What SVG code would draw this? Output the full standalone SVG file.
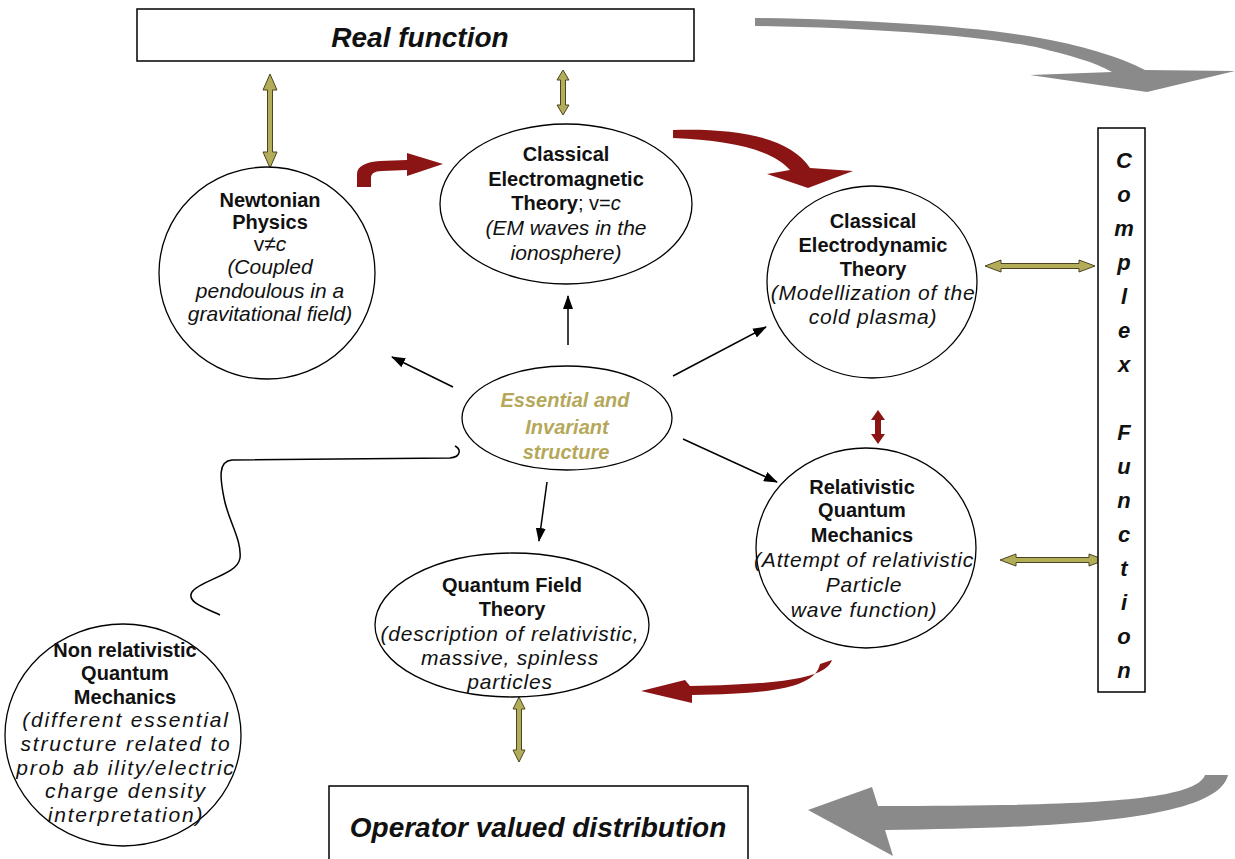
<svg xmlns="http://www.w3.org/2000/svg" width="1235" height="859" viewBox="0 0 1235 859">
<defs>
<marker id="ah" markerWidth="14" markerHeight="10" refX="13" refY="5" orient="auto" markerUnits="userSpaceOnUse">
<path d="M0,0 L14,5 L0,10 Z" fill="#000"/>
</marker>
<style>
text{font-family:"Liberation Sans",Arial,sans-serif;fill:#111;text-anchor:middle}
.b{font-weight:bold;font-size:20px}
.i{font-style:italic;font-size:21px}
.i2{font-style:italic;font-size:21px;letter-spacing:0.8px}
.i3{font-style:italic;font-size:21px;letter-spacing:1.8px}
.n{font-weight:normal;font-style:normal}
.it{font-weight:normal;font-style:italic}
.ess{font-weight:bold;font-style:italic;font-size:20px;fill:#B5A85A}
.big{font-weight:bold;font-style:italic;font-size:28px}
.cf{font-weight:bold;font-style:italic;font-size:22px}
.node{fill:#fff;stroke:#000;stroke-width:1.3}
.box{fill:#fff;stroke:#000;stroke-width:1.5}
.gold{fill:#B3AC58;stroke:#4a4520;stroke-width:1}
.red{fill:#8B1414;stroke:none}
.gray{fill:#8A8A8A;stroke:none}
.con{stroke:#000;stroke-width:1.5;fill:none}
</style>
</defs>

<g id="connectors">
<path class="gray" d="M755,18 C880,20 1000,28 1060,42 C1105,52 1130,62 1145,70 L1235,71 L1147,92 L1030,75 L1112,72 C1095,62 1068,55 1040,48 C990,37 880,28 755,26 Z"/>
<path class="gray" d="M1205,775 C1195,800 1100,806 878,806 L872,787 L808,810 L893,856 L885,830 C1060,828 1218,820 1228,775 Z"/>
<path class="red" d="M357,187 L357,174 C357,166 366,162 380,161 L407,160 L407,153 L443,164 L407,176 L407,170 L382,171 C374,171 371,174 371,178 L371,187 Z"/>
<path class="red" d="M673,130 C740,128 790,138 810,168 L853,171 L808,188 L767,174 L790,170 C773,150 730,140 673,138 Z"/>
<path class="red" d="M832,660 C825,680 775,684 690,686 L685,680 L641,691 L692,703 L692,695 C770,694 815,688 820,664 Z"/>
<polygon class="red" points="878,410 885,420 881,420 881,434 885,434 878,444 871,434 875,434 875,420 871,420"/>
<polygon class="gold" points="270,74 277,90 272.5,90 272.5,152 277,152 270,168 263,152 267.5,152 267.5,90 263,90"/>
<polygon class="gold" points="563,70 569,80 565.5,80 565.5,105 569,105 563,115 557,105 560.5,105 560.5,80 557,80"/>
<polygon class="gold" points="519,697 525,709 521.5,709 521.5,750 525,750 519,762 513,750 516.5,750 516.5,709 513,709"/>
<polygon class="gold" points="985,266 1001,260 1001,263.5 1079,263.5 1079,260 1095,266 1079,272 1079,268.5 1001,268.5 1001,272"/>
<polygon class="gold" points="1000,560 1016,554 1016,557.5 1089,557.5 1089,554 1105,560 1089,566 1089,562.5 1016,562.5 1016,566"/>
<line class="con" x1="453" y1="387" x2="392" y2="357" marker-end="url(#ah)"/>
<line class="con" x1="568" y1="345" x2="568" y2="296" marker-end="url(#ah)"/>
<line class="con" x1="673" y1="376" x2="766" y2="327" marker-end="url(#ah)"/>
<line class="con" x1="683" y1="439" x2="777" y2="482" marker-end="url(#ah)"/>
<line class="con" x1="547" y1="482" x2="539" y2="541" marker-end="url(#ah)"/>
<path class="con" d="M455,446 C462,450 460,457 450,458 L232,460 C218,461 220,478 224,498 C228,520 242,540 240,558 C238,575 200,580 192,592 C186,602 205,608 220,615"/>
</g>

<g id="real-function">
<rect class="box" x="137" y="9" width="557" height="52"/>
<text class="big" x="420" y="47">Real function</text>
</g>

<g id="operator-valued">
<rect class="box" x="329" y="786" width="419" height="80"/>
<text class="big" x="538" y="837">Operator valued distribution</text>
</g>

<g id="complex-function">
<rect class="box" x="1098" y="128" width="47" height="564"/>
<text class="cf" x="1124" y="168">C</text>
<text class="cf" x="1124" y="202">o</text>
<text class="cf" x="1124" y="236">m</text>
<text class="cf" x="1124" y="270">p</text>
<text class="cf" x="1124" y="304">l</text>
<text class="cf" x="1124" y="338">e</text>
<text class="cf" x="1124" y="372">x</text>
<text class="cf" x="1124" y="440">F</text>
<text class="cf" x="1124" y="474">u</text>
<text class="cf" x="1124" y="508">n</text>
<text class="cf" x="1124" y="542">c</text>
<text class="cf" x="1124" y="576">t</text>
<text class="cf" x="1124" y="610">i</text>
<text class="cf" x="1124" y="644">o</text>
<text class="cf" x="1124" y="678">n</text>
</g>

<g id="newtonian">
<ellipse class="node" cx="267" cy="273" rx="108" ry="106"/>
<text class="b" x="270" y="207">Newtonian</text>
<text class="b" x="270" y="229">Physics</text>
<text class="i" x="270" y="251"><tspan class="n">v≠</tspan>c</text>
<text class="i" x="270" y="274">(Coupled</text>
<text class="i" x="270" y="298">pendoulous in a</text>
<text class="i" x="270" y="321">gravitational field)</text>
</g>

<g id="electromagnetic">
<ellipse class="node" cx="566" cy="204" rx="126" ry="80"/>
<text class="b" x="566" y="161">Classical</text>
<text class="b" x="566" y="186">Electromagnetic</text>
<text class="b" x="566" y="210">Theory<tspan class="n">; v=</tspan><tspan class="it">c</tspan></text>
<text class="i" x="566" y="235">(EM waves in the</text>
<text class="i" x="566" y="260">ionosphere)</text>
</g>

<g id="electrodynamic">
<ellipse class="node" cx="872" cy="282" rx="105" ry="96"/>
<text class="b" x="873" y="228">Classical</text>
<text class="b" x="873" y="252">Electrodynamic</text>
<text class="b" x="873" y="276">Theory</text>
<text class="i2" x="873" y="300">(Modellization of the</text>
<text class="i2" x="873" y="324">cold plasma)</text>
</g>

<g id="essential">
<ellipse class="node" cx="567" cy="418" rx="105" ry="52"/>
<text class="ess" x="565" y="407">Essential and</text>
<text class="ess" x="567" y="434">Invariant</text>
<text class="ess" x="566" y="459">structure</text>
</g>

<g id="relativistic-qm">
<ellipse class="node" cx="866" cy="548" rx="110" ry="100"/>
<text class="b" x="862" y="494">Relativistic</text>
<text class="b" x="862" y="517">Quantum</text>
<text class="b" x="862" y="542">Mechanics</text>
<text class="i2" x="864" y="567">(Attempt of relativistic</text>
<text class="i2" x="864" y="592">Particle</text>
<text class="i2" x="864" y="617">wave function)</text>
</g>

<g id="qft">
<ellipse class="node" cx="512" cy="625" rx="137" ry="72"/>
<text class="b" x="512" y="592">Quantum Field</text>
<text class="b" x="512" y="616">Theory</text>
<text class="i2" x="510" y="641">(description of relativistic,</text>
<text class="i2" x="510" y="665">massive, spinless</text>
<text class="i2" x="510" y="689">particles</text>
</g>

<g id="non-relativistic-qm">
<ellipse class="node" cx="123" cy="735" rx="118" ry="111"/>
<text class="b" x="125" y="657">Non relativistic</text>
<text class="b" x="125" y="680">Quantum</text>
<text class="b" x="125" y="704">Mechanics</text>
<text class="i3" x="126" y="727">(different essential</text>
<text class="i3" x="126" y="751">structure related to</text>
<text class="i3" x="126" y="775">prob ab ility/electric</text>
<text class="i3" x="126" y="798">charge density</text>
<text class="i3" x="126" y="822">interpretation)</text>
</g>
</svg>
